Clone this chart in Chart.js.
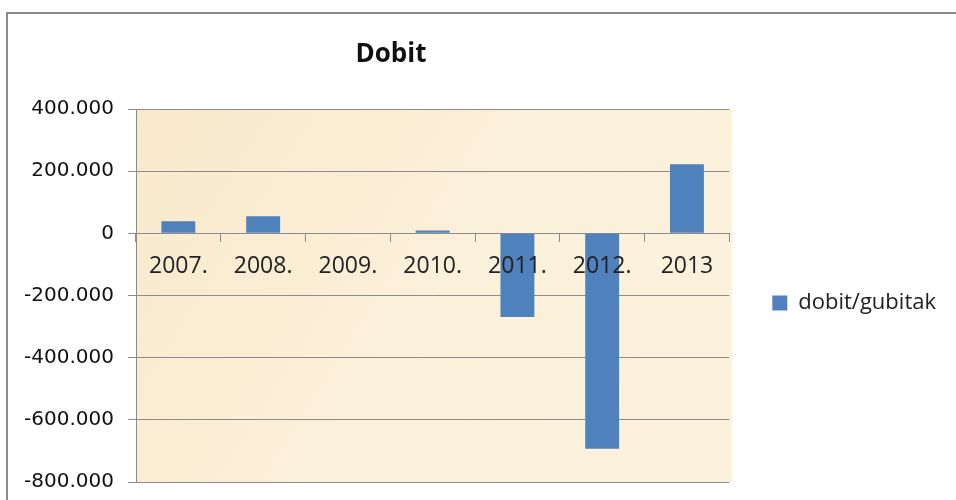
<!DOCTYPE html>
<html>
<head>
<meta charset="utf-8">
<script src="https://cdn.jsdelivr.net/npm/chart.js@4"></script>
<style>
  html, body { margin: 0; padding: 0; background: #fff; overflow: hidden; width: 956px; height: 500px; }
  #frame { position: absolute; left: 6px; top: 12px; width: 1000px; height: 600px;
           border-left: 2px solid #8c8c8c; border-top: 2px solid #8c8c8c; }
  #chart { position: absolute; left: 0; top: 0; }
</style>
</head>
<body>
<div id="frame"></div>
<canvas id="chart" width="956" height="508"></canvas>
<script>
const categories = ['2007.', '2008.', '2009.', '2010.', '2011.', '2012.', '2013'];
const dobitGubitak = [39000, 55000, 0, 9000, -269000, -693000, 222000];
const yTicks = [-800000, -600000, -400000, -200000, 0, 200000, 400000];
const titleText = 'Dobit';
const seriesName = 'dobit/gubitak';

function formatThousands(v) {
    const s = Math.abs(v).toString().replace(/\B(?=(\d{3})+(?!\d))/g, '.');
    return (v < 0 ? '-' : '') + s;
}

// beige plot background
const plotBg = {
    id: 'plotBg',
    beforeDraw(chart) {
        const { ctx, chartArea: a } = chart;
        ctx.save();
        const g = ctx.createLinearGradient(a.left, a.top, a.right, a.bottom);
        g.addColorStop(0, '#f8e9cb');
        g.addColorStop(0.5, '#fbf0da');
        g.addColorStop(1, '#fcf1dc');
        ctx.fillStyle = g;
        ctx.fillRect(a.left, a.top, a.right - a.left + 3, a.bottom - a.top);
        ctx.restore();
    }
};

// title sits off-centre like in the original
const offTitle = {
    id: 'offTitle',
    afterDraw(chart) {
        const ctx = chart.ctx;
        ctx.save();
        ctx.font = 'bold 26px "Open Sans"';
        ctx.fillStyle = '#111';
        ctx.textAlign = 'center';
        ctx.textBaseline = 'middle';
        ctx.fillText(titleText, 391, 55);
        ctx.restore();
    }
};

const ctx = document.getElementById('chart').getContext('2d');
new Chart(ctx, {
    type: 'bar',
    data: {
        labels: categories,
        datasets: [{
            label: seriesName,
            data: dobitGubitak,
            backgroundColor: '#4f81bd',
            borderWidth: 0,
            barPercentage: 0.4,
            categoryPercentage: 1
        }]
    },
    options: {
        responsive: false,
        animation: false,
        layout: { padding: { left: 0, top: 109, right: 10, bottom: 11 } },
        scales: {
            x: {
                position: { y: 0 },
                grid: { drawOnChartArea: false, drawTicks: true, tickLength: 9, color: '#8c8c8c', offset: true },
                border: { display: false },
                ticks: { z: 1, padding: 10, color: '#222', font: { family: 'Open Sans', size: 23 }, maxRotation: 0, autoSkip: false }
            },
            y: {
                min: -800000,
                max: 400000,
                afterBuildTicks(scale) { scale.ticks = yTicks.map(v => ({ value: v })); },
                afterFit(scale) { scale.width = 136; },
                grid: { color: '#8c8c8c', tickLength: 8 },
                border: { color: '#8c8c8c' },
                ticks: { padding: 14, color: '#111', font: { family: 'DejaVu Sans', size: 20 }, callback: v => formatThousands(v) }
            }
        },
        plugins: {
            title: { display: false },
            tooltip: { enabled: false },
            legend: {
                position: 'right',
                labels: { boxWidth: 15, boxHeight: 15, padding: 43, color: '#222', font: { family: 'Open Sans', size: 22 } }
            }
        }
    },
    plugins: [plotBg, offTitle]
});
</script>
</body>
</html>
